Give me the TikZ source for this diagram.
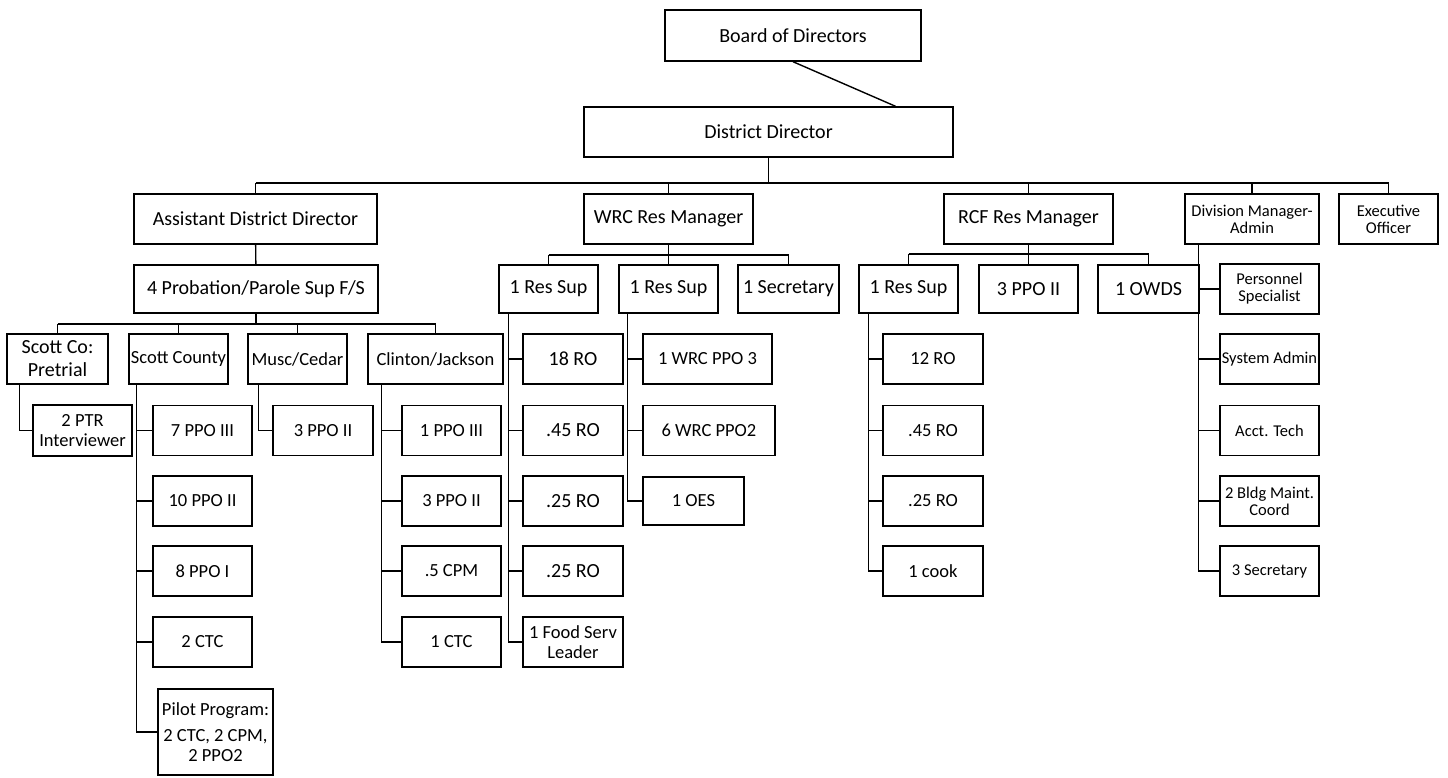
\documentclass[tikz,border=0pt]{standalone}
\usepackage{fontspec}
\setmainfont{Carlito}
\usepackage{tikz}
\usetikzlibrary{calc}

\tikzset{
  orgbox/.style={draw, line width=1.4pt, inner sep=1pt, align=center, font=\fontsize{18.5}{20}\selectfont},
  bigtxt/.style={font=\fontsize{20}{23}\selectfont},
  smalltxt/.style={font=\fontsize{16.5}{17}\selectfont},
  leaf/.style={orgbox, minimum width=100pt, minimum height=50pt},
  link/.style={line width=1.4pt}
}

\begin{document}
\begin{tikzpicture}[x=1pt,y=-1pt]
         \useasboundingbox (0,0) rectangle (1448,777);
         % top of the chart
         \node[orgbox, bigtxt, minimum width=256pt, minimum height=51pt] (bod) at (793,35.5) {Board of Directors};
         \node[orgbox, bigtxt, minimum width=369pt, minimum height=50pt] (dd) at (768.5,132) {District Director};
         \draw[link] (bod.south) -- ($(dd.north west)!0.843!(dd.north east)$);
         % first level
         \node[orgbox, bigtxt, minimum width=243pt, minimum height=50pt] (add) at (255.5,219) {Assistant District Director};
         \node[orgbox, bigtxt, minimum width=169pt, minimum height=50pt] (wrc) at (668.5,219) {WRC Res Manager};
         \node[orgbox, bigtxt, minimum width=169pt, minimum height=50pt] (rcf) at (1028.5,219) {RCF Res Manager};
         \node[orgbox, smalltxt, minimum width=134pt, minimum height=50pt] (dma) at (1252,219) {Division Manager-\\Admin};
         \node[orgbox, smalltxt, minimum width=99pt, minimum height=50pt] (exo) at (1388.5,219) {Executive\\Officer};
         \coordinate (topbus) at (0,183);
         \draw[link] (dd.south) -- (dd.south |- topbus);
         \draw[link] (add.north |- topbus) -- (exo.north |- topbus);
         \foreach \n in {add,wrc,rcf,dma,exo} {\draw[link] (\n.north) -- (\n.north |- topbus);}
         % second level
         \node[orgbox, bigtxt, minimum width=244pt, minimum height=48pt] (pps) at (256,289) {4 Probation/Parole Sup F/S};
         \draw[link] (add) -- (pps);
         \node[orgbox, bigtxt, minimum width=99pt, minimum height=48pt] (wsupa) at (548.5,289) {1 Res Sup};
         \node[orgbox, bigtxt, minimum width=99pt, minimum height=48pt] (wsupb) at (668.5,289) {1 Res Sup};
         \node[orgbox, bigtxt, minimum width=101pt, minimum height=48pt] (wsec) at (788.5,289) {1 Secretary};
         \coordinate (wrcbus) at (0,255);
         \draw[link] (wrc.south) -- (wrc.south |- wrcbus);
         \draw[link] (wsupa.north |- wrcbus) -- (wsec.north |- wrcbus);
         \foreach \n in {wsupa,wsupb,wsec} {\draw[link] (\n.north) -- (\n.north |- wrcbus);}
         \node[orgbox, bigtxt, minimum width=99pt, minimum height=48pt] (rsup) at (908.5,289) {1 Res Sup};
         \node[orgbox, bigtxt, minimum width=99pt, minimum height=48pt] (rppo) at (1028.5,289) {3 PPO II};
         \node[orgbox, bigtxt, minimum width=101pt, minimum height=48pt] (owds) at (1148.5,289) {1 OWDS};
         \coordinate (rcfbus) at (0,254);
         \draw[link] (rcf.south) -- (rcf.south |- rcfbus);
         \draw[link] (rsup.north |- rcfbus) -- (owds.north |- rcfbus);
         \foreach \n in {rsup,rppo,owds} {\draw[link] (\n.north) -- (\n.north |- rcfbus);}
         % offices under the supervisors
         \node[orgbox, bigtxt, minimum width=101pt, minimum height=50pt] (scpre) at (57.5,359) {Scott Co:\\Pretrial};
         \node[orgbox, minimum width=99pt, minimum height=50pt] (scott) at (178.5,359) {Scott County};
         \node[orgbox, minimum width=99pt, minimum height=50pt] (musc) at (297.5,359) {Musc/Cedar};
         \node[orgbox, minimum width=135pt, minimum height=50pt] (clin) at (435.5,359) {Clinton/Jackson};
         \coordinate (ppsbus) at (0,324);
         \draw[link] (pps.south) -- (pps.south |- ppsbus);
         \draw[link] (scpre.north |- ppsbus) -- (clin.north |- ppsbus);
         \foreach \n in {scpre,scott,musc,clin} {\draw[link] (\n.north) -- (\n.north |- ppsbus);}
         % Scott Co: Pretrial
         \node[leaf, minimum width=99pt, minimum height=51pt] (ptr) at (82.5,430.5) {2 PTR\\Interviewer};
         \draw[link] ($(scpre.south west)+(13,0)$) |- (ptr.west);
         % Scott County
         \coordinate (scrail) at ($(scott.south west)+(8,0)$);
         \foreach \lbl/\y [count=\i] in {7 PPO III/430.5, 10 PPO II/501, 8 PPO I/571, 2 CTC/642} {
            \node[leaf, minimum width=99pt] (sc\i) at (202.5,\y) {\lbl};
            \draw[link] (sc\i.west) -- (sc\i.west -| scrail);
         }
         \node[orgbox, minimum width=115pt, minimum height=86pt] (pilot) at (215.5,732) {Pilot Program:\\[6pt]2 CTC, 2 CPM,\\2 PPO2};
         \draw[link] (scrail) |- (pilot.west);
         % Musc/Cedar
         \node[leaf] (mc1) at (323,430.5) {3 PPO II};
         \draw[link] ($(musc.south west)+(11,0)$) |- (mc1.west);
         % Clinton/Jackson
         \coordinate (cjrail) at ($(clin.south west)+(14,0)$);
         \foreach \lbl/\y [count=\i] in {1 PPO III/430.5, 3 PPO II/501, .5 CPM/571, 1 CTC/642} {
            \node[leaf, minimum width=99pt] (cj\i) at (451.5,\y) {\lbl};
         }
         \foreach \i in {1,2,3} {\draw[link] (cj\i.west) -- (cj\i.west -| cjrail);}
         \draw[link] (cjrail) |- (cj4.west);
         % WRC first Res Sup
         \coordinate (warail) at ($(wsupa.south west)+(10,0)$);
         \foreach \lbl/\y [count=\i] in {18 RO/359, .45 RO/430.5, .25 RO/501, .25 RO/571} {
            \node[leaf, bigtxt] (wa\i) at (573,\y) {\lbl};
            \draw[link] (wa\i.west) -- (wa\i.west -| warail);
         }
         \node[leaf] (food) at (573,642) {1 Food Serv\\Leader};
         \draw[link] (warail) |- (food.west);
         % WRC second Res Sup
         \coordinate (wbrail) at ($(wsupb.south west)+(9,0)$);
         \node[leaf, minimum width=129pt] (wb1) at (707.5,359) {1 WRC PPO 3};
         \node[leaf, minimum width=132pt] (wb2) at (709,430.5) {6 WRC PPO2};
         \node[leaf, minimum width=101pt, minimum height=48pt] (wb3) at (693.5,501) {1 OES};
         \foreach \i in {1,2} {\draw[link] (wb\i.west) -- (wb\i.west -| wbrail);}
         \draw[link] (wbrail) |- (wb3.west);
         % RCF Res Sup
         \coordinate (rarail) at ($(rsup.south west)+(10,0)$);
         \foreach \lbl/\y [count=\i] in {12 RO/359, .45 RO/430.5, .25 RO/501} {
            \node[leaf] (ra\i) at (933,\y) {\lbl};
            \draw[link] (ra\i.west) -- (ra\i.west -| rarail);
         }
         \node[leaf] (cook) at (933,571) {1 cook};
         \draw[link] (rarail) |- (cook.west);
         % Division Manager-Admin
         \coordinate (dmrail) at ($(dma.south west)+(14,0)$);
         \foreach \lbl/\y [count=\i] in {Personnel\\Specialist/289, System Admin/359, Acct. Tech/430.5, 2 Bldg Maint.\\Coord/501} {
            \node[leaf, smalltxt, minimum width=99pt] (dm\i) at (1269.5,\y) {\lbl};
            \draw[link] (dm\i.west) -- (dm\i.west -| dmrail);
         }
         \node[leaf, smalltxt, minimum width=99pt] (dm5) at (1269.5,571) {3 Secretary};
         \draw[link] (dmrail) |- (dm5.west);
      \end{tikzpicture}
\end{document}
